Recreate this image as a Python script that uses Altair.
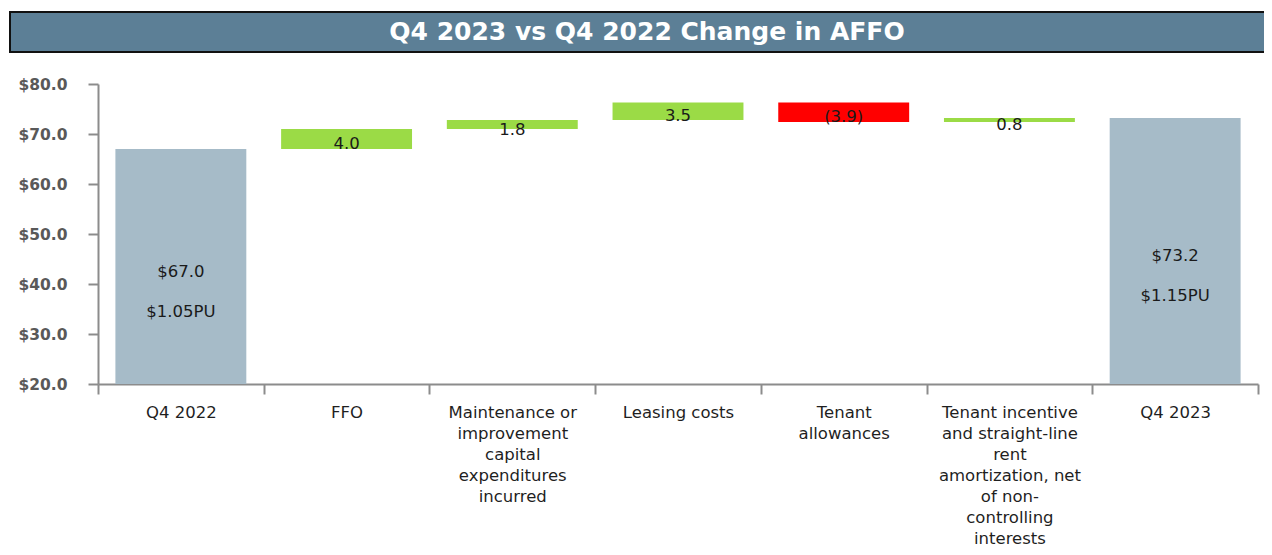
import altair as alt
import pandas as pd

# ---- data ----
categories = [
    "Q4 2022",
    "FFO",
    "Maintenance or\nimprovement\ncapital\nexpenditures\nincurred",
    "Leasing costs",
    "Tenant\nallowances",
    "Tenant incentive\nand straight-line\nrent\namortization, net\nof non-\ncontrolling\ninterests",
    "Q4 2023",
]
values = [67.0, 4.0, 1.8, 3.5, -3.9, 0.8, 73.2]
kinds = ["total", "increase", "increase", "increase", "decrease", "increase", "total"]
per_unit = ["$1.05PU", "", "", "", "", "", "$1.15PU"]
title_text = "Q4 2023 vs Q4 2022 Change in AFFO"
y_min, y_max = 20, 80

# ---- build waterfall table ----
rows = []
running = 0.0
for i, (cat, v, k, pu) in enumerate(zip(categories, values, kinds, per_unit)):
    if k == "total":
        start, end = y_min, v
        running = v
        label = f"${v:.1f}"
    else:
        start, end = running, running + v
        running = end
        label = f"{abs(v):.1f}" if v >= 0 else f"({abs(v):.1f})"
    rows.append(dict(order=i, category=cat, start=start, end=end,
                     mid=(start + end) / 2, kind=k, label=label, pu=pu))
df = pd.DataFrame(rows)

W, H = 1160, 300
FONT = "DejaVu Sans"

x_enc = alt.X("category:N", sort=categories, title=None,
              scale=alt.Scale(paddingInner=0, paddingOuter=0),
              axis=alt.Axis(labelAngle=0, tickBand="extent", tickSize=10,
                            labelPadding=10, labelFontSize=16.5, labelColor="#1f1f1f",
                            labelFont=FONT, labelLineHeight=21,
                            labelExpr="split(datum.label, '\\n')",
                            domainColor="#8c8c8c", tickColor="#8c8c8c",
                            domainWidth=2, tickWidth=2, labelBaseline="top"))

color_scale = alt.Scale(domain=["total", "increase", "decrease"],
                        range=["#A6BBC8", "#9BDB46", "#FF0000"])

bars = alt.Chart(df).mark_bar(width=alt.RelativeBandSize(0.79)).encode(
    x=x_enc,
    y=alt.Y("start:Q", title=None,
            scale=alt.Scale(domain=[y_min, y_max], zero=False, nice=False),
            axis=alt.Axis(values=list(range(20, 81, 10)), format="$.1f",
                          grid=False, tickSize=10, labelPadding=21,
                          labelFontSize=15.5, labelFontWeight="bold",
                          labelColor="#595959", labelFont=FONT,
                          domainColor="#8c8c8c", tickColor="#8c8c8c",
                          domainWidth=2, tickWidth=2)),
    y2="end:Q",
    color=alt.Color("kind:N", scale=color_scale, legend=None),
)

labels = alt.Chart(df).mark_text(fontSize=16.5, color="#1a1a1a", font=FONT,
                                 baseline="middle", dy=5).encode(
    x=alt.X("category:N", sort=categories),
    y=alt.Y("mid:Q"),
    text="label:N",
)

pu_labels = alt.Chart(df).mark_text(fontSize=16.5, color="#1a1a1a", font=FONT,
                                    baseline="middle", dy=45).encode(
    x=alt.X("category:N", sort=categories),
    y=alt.Y("mid:Q"),
    text="pu:N",
)

title_df = pd.DataFrame({"t": [title_text]})
band = alt.Chart(title_df).mark_rect(fill="#5C7F96", stroke="#111111",
                                     strokeWidth=2, clip=False).encode(
    x=alt.value(-88), x2=alt.value(W + 40),
    y=alt.value(-72), y2=alt.value(-32),
)
title = alt.Chart(title_df).mark_text(fontSize=25, fontWeight="bold", color="white",
                                      font=FONT, baseline="middle").encode(
    x=alt.value(549), y=alt.value(-52), text="t:N",
)

chart = alt.layer(band, title, bars, labels, pu_labels).properties(
    width=W, height=H,
    background="white",
    padding={"left": 90, "top": 76, "right": 6, "bottom": 163},
    autosize=alt.AutoSizeParams(type="none"),
).configure_view(stroke=None)

chart.save("out.html", embed_options={"renderer": "svg", "actions": False})
